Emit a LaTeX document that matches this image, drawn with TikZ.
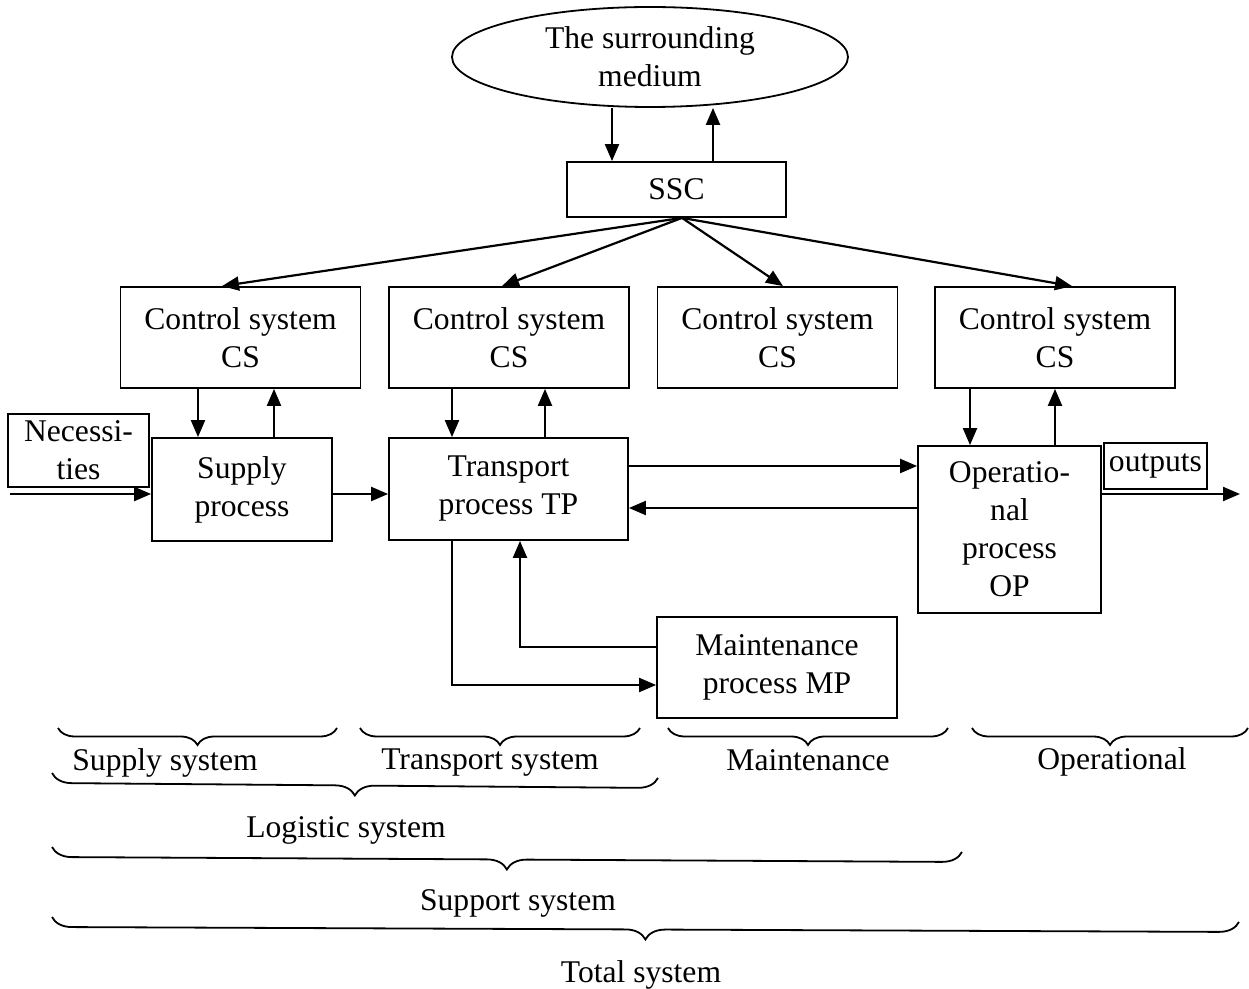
\documentclass[tikz,border=0pt]{standalone}
\usepackage{fontspec}
\setmainfont{Liberation Serif}
\usetikzlibrary{shapes.geometric, arrows.meta, positioning, calc, decorations.pathreplacing}

\begin{document}
\begin{tikzpicture}[x=0.5pt, y=-0.5pt,
  font=\fontsize{15.8}{19}\selectfont,
  box/.style={draw, line width=0.9pt, inner sep=0pt, align=center},
  csbox/.style={box, minimum width=120pt, minimum height=50.5pt},
  arr/.style={line width=1.1pt, -{Triangle[length=8.5pt,width=7pt]}},
  brc/.style={decorate, decoration={brace, mirror, amplitude=#1}, line width=0.9pt},
  brc/.default=8.5pt,
  lbl/.style={inner sep=0pt, align=center}]
  \useasboundingbox (0,0) rectangle (1249,989);

  % environment and top controller
  \node[box, ellipse, minimum width=198pt, minimum height=50pt] (med) at (650,57) {The surrounding\\medium};
  \node[box, minimum width=109.5pt, minimum height=27.5pt] (ssc) at (676.5,189.5) {SSC};

  % control systems
  \node[csbox] (cs1) at (240.5,337.5) {Control system\\CS};
  \node[csbox] (cs2) at (509,337.5) {Control system\\CS};
  \node[csbox] (cs3) at (777.5,337.5) {Control system\\CS};
  \node[csbox] (cs4) at (1055,337.5) {Control system\\CS};

  % processes
  \node[box, minimum width=70.5pt, minimum height=36.5pt] (nec) at (78.5,450.5) {Necessi-\\ties};
  \node[box, minimum width=90pt, minimum height=51.5pt] (sp) at (242,489.5) {Supply\\process};
  \node[box, minimum width=119.5pt, minimum height=51pt] (tp) at (508.5,489) {Transport\\process TP};
  \node[box, minimum width=91.5pt, minimum height=83.5pt] (op) at (1009.5,529.5) {Operatio-\\nal\\process\\OP};
  \node[box, minimum width=51.5pt, minimum height=23pt] (out) at (1155.5,466) {outputs};
  \node[box, minimum width=120pt, minimum height=50.5pt] (mp) at (777,667.5) {Maintenance\\process MP};

  \coordinate (in) at (10,494);
  \coordinate (end) at (1240,494);
  \coordinate (hub) at ([xshift=2.75pt]ssc.south);

  % arrows
  \draw[arr] ([xshift=-32.25pt]ssc.north |- med.south) -- ([xshift=-32.25pt]ssc.north);
  \draw[arr] ([xshift=18.25pt]ssc.north) -- ([xshift=18.25pt]ssc.north |- med.south);
  \draw[arr] (hub) -- ([xshift=-9.25pt]cs1.north);
  \draw[arr] (hub) -- ([xshift=-3.5pt]cs2.north);
  \draw[arr] (hub) -- ([xshift=2.75pt]cs3.north);
  \draw[arr] (hub) -- ([xshift=8.5pt]cs4.north);

  \draw[arr] ([xshift=-22pt]sp.north |- cs1.south) -- ([xshift=-22pt]sp.north);
  \draw[arr] ([xshift=16pt]sp.north) -- ([xshift=16pt]sp.north |- cs1.south);
  \draw[arr] ([xshift=-28.25pt]tp.north |- cs2.south) -- ([xshift=-28.25pt]tp.north);
  \draw[arr] ([xshift=18.25pt]tp.north) -- ([xshift=18.25pt]tp.north |- cs2.south);
  \draw[arr] ([xshift=-19.75pt]op.north |- cs4.south) -- ([xshift=-19.75pt]op.north);
  \draw[arr] ([xshift=22.75pt]op.north) -- ([xshift=22.75pt]op.north |- cs4.south);

  \draw[arr] (in) -- (in -| sp.west);
  \draw[arr] ([yshift=-2.25pt]sp.east) -- ([yshift=-2.25pt]sp.east -| tp.west);
  \draw[arr] ([yshift=11.5pt]tp.east) -- ([yshift=11.5pt]tp.east -| op.west);
  \draw[arr] ([yshift=-9.5pt]op.west |- tp.east) -- ([yshift=-9.5pt]tp.east);
  \draw[arr] (op.east |- end) -- (end);
  \draw[arr] ([xshift=-28.25pt]tp.south) |- ([yshift=-8.75pt]mp.west);
  \draw[arr] ([yshift=10.25pt]mp.west) -| ([xshift=5.75pt]tp.south);

  % braces
  \draw[brc] (58,728) -- (337,728);
  \draw[brc] (360,728) -- (640,728);
  \draw[brc] (668,728) -- (948,728);
  \draw[brc] (972,728) -- (1248,728);
  \draw[brc=10pt] (52,773) -- (658,778);
  \draw[brc=10pt] (52,847) -- (962,852);
  \draw[brc=10pt] (52,917) -- (1239,922);

  \node[lbl] (l-sup) at (165,763) {Supply system};
  \node[lbl] (l-tra) at (490,763) {Transport system};
  \node[lbl] (l-mnt) at (808,760) {Maintenance};
  \node[lbl] (l-ops) at (1112,762) {Operational};
  \node[lbl] (l-log) at (346,830) {Logistic system};
  \node[lbl] (l-spt) at (518,903) {Support system};
  \node[lbl] (l-tot) at (641,975) {Total system};
\end{tikzpicture}
\end{document}
